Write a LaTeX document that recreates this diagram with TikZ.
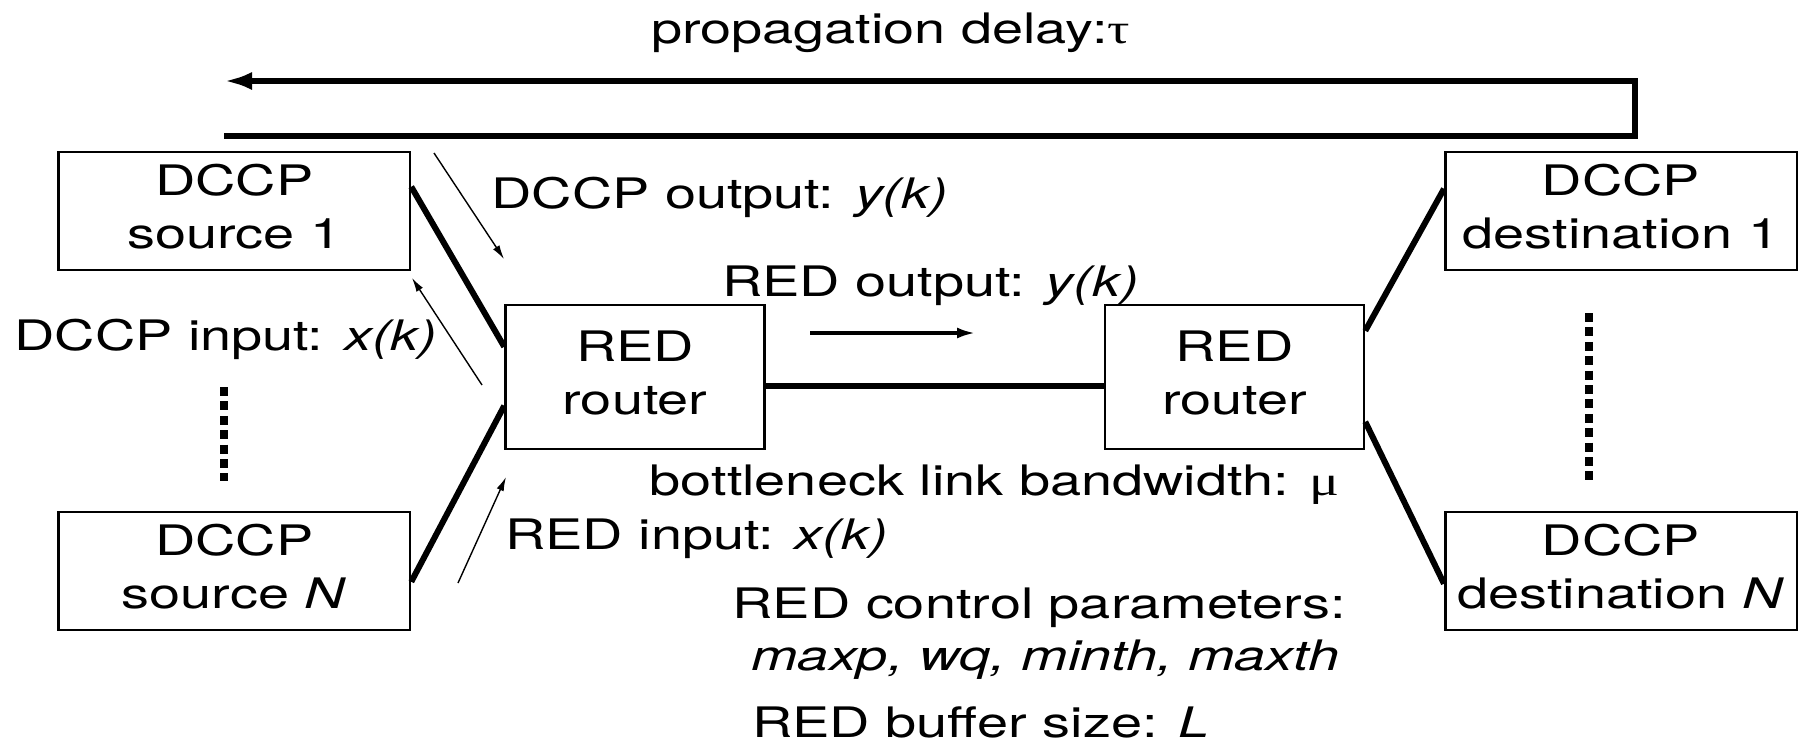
\documentclass[tikz,border=0pt]{standalone}
\usepackage{fontspec}
\setmainfont[FakeStretch=1.33]{TeX Gyre Heros}
\newfontfamily\grk[FakeStretch=1.33]{Liberation Serif}
\usetikzlibrary{arrows.meta,calc}
\newcommand\lowfix{\vphantom{p}}
\begin{document}
\begin{tikzpicture}[x=0.5pt,y=-0.5pt,
  font=\fontsize{21}{26.5}\selectfont,
  hostbox/.style={draw, line width=1.25pt, inner sep=0pt, align=center,
    minimum width=175.75pt, minimum height=59pt},
  routerbox/.style={draw, line width=1.25pt, inner sep=0pt, align=center,
    minimum width=129.5pt, minimum height=72pt},
  lbl/.style={inner sep=0pt, anchor=base west},
  lblr/.style={inner sep=0pt, anchor=base east},
  link/.style={line width=3pt},
  fbline/.style={line width=3pt, line join=miter, -{Latex[length=14pt,width=9pt]}},
  thinarrow/.style={line width=0.7pt, -{Latex[length=7pt,width=3.8pt]}},
  midarrow/.style={line width=1.6pt, -{Latex[length=9pt,width=5.5pt]}},
  dotcol/.style={line width=4pt, dash pattern=on 4.5pt off 2.7pt}]
\useasboundingbox (0,0) rectangle (1798,750);

% boxes
\node[hostbox] (s1) at (234.25,211) {DCCP\\source 1\lowfix};
\node[hostbox] (sN) at (234.25,571) {DCCP\\source \textit{N}\lowfix};
\node[hostbox] (d1) at (1621,211) {DCCP\\destination 1\lowfix};
\node[hostbox] (dN) at (1621,571) {DCCP\\destination \textit{N}\lowfix};
\node[routerbox] (r1) at (635,377) {RED\\router\lowfix};
\node[routerbox] (r2) at (1234.5,377) {RED\\router\lowfix};

% labels
\node[lbl] (tprop) at (651,43) {propagation delay:{\grk τ}};
\node[lbl] (tdout) at (491,208) {DCCP output: \textit{y(k)}};
\node[lbl] (trout) at (722,296) {RED output: \textit{y(k)}};
\node[lbl] (tdin) at (14,350) {DCCP input: \textit{x(k)}};
\node[lblr] (tbw) at (1340,495) {bottleneck link bandwidth: {\grk μ}};
\node[lbl] (trin) at (505,549) {RED input: \textit{x(k)}};
\node[lblr] (tctl) at (1346,618) {RED control parameters:};
\node[lblr] (tpar) at (1340,670) {\textit{maxp, wq, minth, maxth}};
\node[lbl] (tbuf) at (752,737) {RED buffer size: \textit{L}};

% links
\draw[link] ($(s1.north east)+(0,36)$) -- ($(r1.north west)+(0,43)$);
\draw[link] ($(sN.north east)+(0,71)$) -- ($(r1.north west)+(0,102)$);
\draw[link] ($(r2.north east)+(0,27)$) -- ($(d1.north west)+(0,38)$);
\draw[link] ($(r2.north east)+(0,118)$) -- ($(dN.north west)+(0,73)$);
\draw[link] ($(r1.north east)+(0,82)$) -- ($(r2.north west)+(0,82)$);

% feedback path
\coordinate (fbA) at (224,136);
\coordinate (fbB) at (1635,136);
\coordinate (fbC) at (1635,81);
\coordinate (fbD) at (224,81);
\draw[fbline] (fbA) -- (fbB) -- (fbC) -- (fbD);

% thin arrows
\coordinate (oa1) at (434,153);
\coordinate (oa2) at (504,259);
\coordinate (ia1) at (482,385);
\coordinate (ia2) at (412,278);
\coordinate (ri1) at (458,583);
\coordinate (ri2) at (506,477);
\coordinate (ro1) at (810,333);
\coordinate (ro2) at (975,333);
\draw[thinarrow] (oa1) -- (oa2);
\draw[thinarrow] (ia1) -- (ia2);
\draw[thinarrow] (ri1) -- (ri2);
\draw[midarrow] (ro1) -- (ro2);

% dotted columns
\coordinate (dl1) at (224,387);
\coordinate (dl2) at (224,481);
\coordinate (dr1) at (1589,313);
\coordinate (dr2) at (1589,481);
\draw[dotcol] (dl1) -- (dl2);
\draw[dotcol] (dr1) -- (dr2);
\end{tikzpicture}
\end{document}
